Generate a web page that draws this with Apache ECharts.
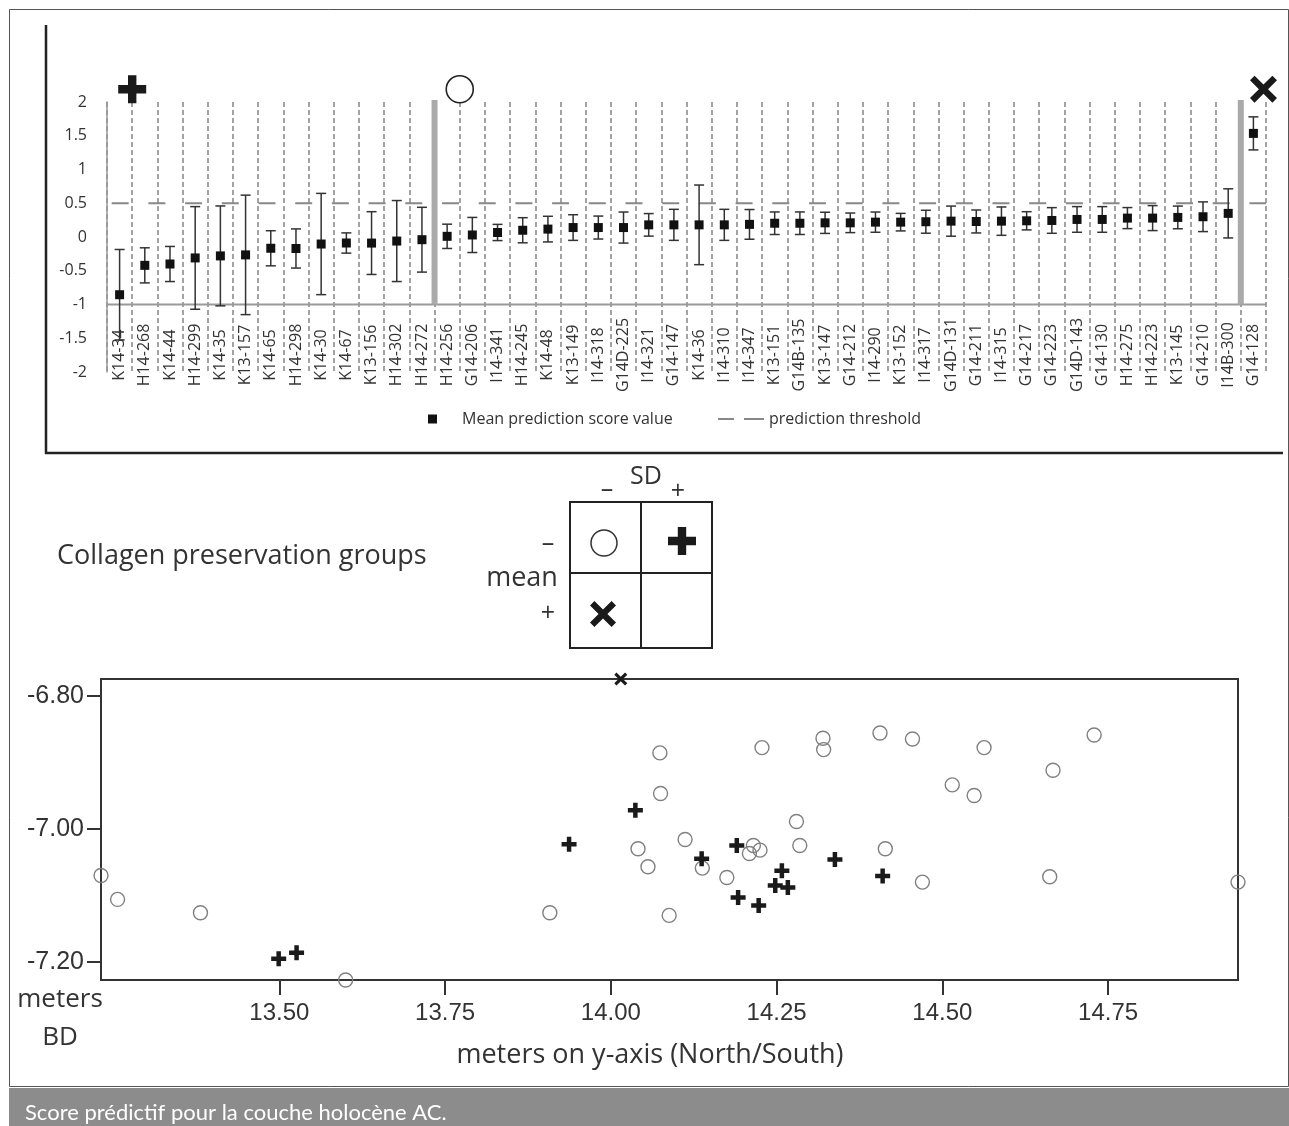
<!DOCTYPE html>
<html><head><meta charset="utf-8">
<script src="https://cdn.jsdelivr.net/npm/echarts@6/dist/echarts.min.js"></script>
<style>html,body{margin:0;padding:0;background:#fff}#c{width:1289px;height:1126px}</style>
</head><body><div id="c"></div>
<script>
// ---- top chart data ----
const categories = ['K14-34','H14-268','K14-44','H14-299','K14-35','K13-157','K14-65','H14-298','K14-30','K14-67','K13-156','H14-302','H14-272','H14-256','G14-206','I14-341','H14-245','K14-48','K13-149','I14-318','G14D-225','I14-321','G14-147','K14-36','I14-310','I14-347','K13-151','G14B-135','K13-147','G14-212','I14-290','K13-152','I14-317','G14D-131','G14-211','I14-315','G14-217','G14-223','G14D-143','G14-130','H14-275','H14-223','K13-145','G14-210','I14B-300','G14-128'];
const meanScores = [-0.855,-0.42,-0.40,-0.31,-0.28,-0.265,-0.167,-0.17,-0.104,-0.089,-0.09,-0.06,-0.04,0.01,0.03,0.067,0.10,0.117,0.14,0.14,0.14,0.18,0.18,0.18,0.18,0.187,0.204,0.204,0.21,0.21,0.22,0.22,0.226,0.235,0.23,0.235,0.24,0.245,0.26,0.26,0.28,0.28,0.29,0.30,0.35,1.535];
const sdValues = [0.67,0.26,0.26,0.76,0.74,0.885,0.26,0.29,0.75,0.15,0.465,0.60,0.48,0.18,0.26,0.12,0.186,0.19,0.19,0.17,0.23,0.167,0.23,0.59,0.23,0.22,0.167,0.167,0.157,0.145,0.15,0.13,0.17,0.223,0.17,0.21,0.135,0.19,0.19,0.19,0.156,0.185,0.168,0.22,0.364,0.245];
const thresholdValue = 0.5;
const floorValue = -1;
const groupBoundaries = [13, 45];
const groupMarkerPos = [1, 14, 45.9];
const groupMarkerLevel = 2.19;

// ---- bottom chart data (meters N/S, meters BD) ----
const circleNS = [13.231,13.256,13.381,13.600,13.908,14.074,14.075,14.041,14.056,14.112,14.088,14.138,14.175,14.215,14.209,14.225,14.228,14.320,14.321,14.406,14.455,14.563,14.515,14.548,14.280,14.285,14.414,14.470,14.729,14.667,14.662,14.946];
const circleBD = [-7.070,-7.106,-7.126,-7.227,-7.126,-6.886,-6.947,-7.030,-7.057,-7.016,-7.130,-7.059,-7.073,-7.025,-7.037,-7.032,-6.878,-6.864,-6.881,-6.856,-6.865,-6.878,-6.934,-6.950,-6.989,-7.025,-7.030,-7.080,-6.859,-6.912,-7.072,-7.080];
const plusNS = [13.499,13.526,13.937,14.037,14.137,14.190,14.192,14.223,14.248,14.258,14.267,14.338,14.410];
const plusBD = [-7.195,-7.186,-7.023,-6.972,-7.045,-7.025,-7.103,-7.115,-7.085,-7.063,-7.088,-7.046,-7.071];
const crossNS = [14.015];
const crossBD = [-6.775];
const xTickValues = [13.5,13.75,14.0,14.25,14.5,14.75];
const yTickValues = [-7.2,-7.0,-6.8];

const PLUS = 'path://M3.5,0h3v3.5h3.5v3h-3.5v3.5h-3v-3.5h-3.5v-3h3.5z';
const CROSS = 'path://M1.7,0L5,3.3L8.3,0L10,1.7L6.7,5L10,8.3L8.3,10L5,6.7L1.7,10L0,8.3L3.3,5L0,1.7Z';
const PLUS_PTS = [[3.5,0],[6.5,0],[6.5,3.5],[10,3.5],[10,6.5],[6.5,6.5],[6.5,10],[3.5,10],[3.5,6.5],[0,6.5],[0,3.5],[3.5,3.5]];
const CROSS_PTS = [[1.7,0],[5,3.3],[8.3,0],[10,1.7],[6.7,5],[10,8.3],[8.3,10],[5,6.7],[1.7,10],[0,8.3],[3.3,5],[0,1.7]];
const shapeAt = (pts, cx, cy, s) => pts.map(p => [cx + (p[0]-5)*s/10, cy + (p[1]-5)*s/10]);

const zip = (a,b) => a.map((v,i)=>[v,b[i]]);
const chart = echarts.init(document.getElementById('c'));
const TF = 'Open Sans';

chart.setOption({
  animation: false,
  backgroundColor: '#fff',
  grid: [
    {left:107, top:102, width:1159, height:270, outerBoundsMode:'none', containLabel:false},
    {left:101, top:679, width:1137, height:301, outerBoundsMode:'none', containLabel:false,
     show:true, borderColor:'#333', borderWidth:2, backgroundColor:'transparent'}
  ],
  legend: [
    {left:428, top:411, itemWidth:9, itemHeight:9, selectedMode:false, padding:0,
     textStyle:{fontSize:16, color:'#333', fontFamily:TF, padding:[0,0,0,20]},
     data:[{name:'Mean prediction score value', icon:'rect', itemStyle:{color:'#111', opacity:1}}]},
    {left:718, top:411, itemWidth:46, itemHeight:2, symbolKeepAspect:false, selectedMode:false, padding:0,
     textStyle:{fontSize:16, color:'#333', fontFamily:TF},
     data:[{name:'prediction threshold', icon:'path://M0,0h16v2h-16zM26,0h20v2h-20z', itemStyle:{color:'#888'}}]}
  ],
  xAxis: [
    {type:'category', gridIndex:0, data:categories, boundaryGap:true,
     axisLine:{show:false}, axisTick:{show:false},
     axisLabel:{interval:0, rotate:90, align:'center', margin:-17, fontSize:16, color:'#333', fontFamily:TF},
     splitLine:{show:true, interval:0, lineStyle:{color:'#999', width:1.8, type:[5,3]}}},
    {type:'value', gridIndex:0, min:0, max:46, show:false},
    {type:'value', gridIndex:1, min:'dataMin', max:'dataMax',
     axisLine:{show:false}, splitLine:{show:false},
     axisTick:{show:true, inside:false, length:15, customValues:xTickValues, lineStyle:{color:'#333', width:2}},
     axisLabel:{customValues:xTickValues, margin:21, fontSize:24, color:'#333', fontFamily:'Liberation Sans',
       formatter:v=>Number(v).toFixed(2)}}
  ],
  yAxis: [
    {type:'value', gridIndex:0, min:-2, max:2, interval:0.5,
     axisLine:{show:true, lineStyle:{color:'#999', width:1.5}}, axisTick:{show:false}, splitLine:{show:false},
     axisLabel:{margin:20, fontSize:16, color:'#333', fontFamily:TF}},
    {type:'value', gridIndex:1, min:'dataMin', max:'dataMax',
     axisLine:{show:false}, splitLine:{show:false},
     axisTick:{show:true, inside:false, length:14, customValues:yTickValues, lineStyle:{color:'#333', width:2}},
     axisLabel:{customValues:yTickValues, margin:17, fontSize:25, color:'#333', fontFamily:'Liberation Sans',
       formatter:v=>Number(v).toFixed(2)}}
  ],
  series: [
    {type:'line', xAxisIndex:1, yAxisIndex:0, silent:true, symbol:'none', z:2,
     data:[[0,floorValue],[46,floorValue]], lineStyle:{color:'#999', width:2}},
    {type:'custom', xAxisIndex:1, yAxisIndex:0, silent:true, z:3,
     data:groupBoundaries.map(b=>[b, floorValue, 2.03]),
     encode:{x:0, y:[1,2]},
     renderItem:(p, api)=>{
       const a = api.coord([api.value(0), api.value(1)]);
       const b = api.coord([api.value(0), api.value(2)]);
       return {type:'rect', shape:{x:a[0]-3, y:b[1], width:6, height:a[1]-b[1]}, style:{fill:'#aaa'}};
     }},
    {type:'line', name:'prediction threshold', xAxisIndex:1, yAxisIndex:0, silent:true, symbol:'none', z:3,
     color:'#888', data:[[0,thresholdValue],[46,thresholdValue]],
     lineStyle:{color:'#888', width:2, type:[17,19.7], dashOffset:32}},
    {type:'custom', xAxisIndex:0, yAxisIndex:0, silent:true, z:4,
     data:meanScores.map((m,i)=>[i, m-sdValues[i], m+sdValues[i]]),
     encode:{x:0, y:[1,2]},
     renderItem:(p, api)=>{
       const x = api.value(0);
       const lo = api.coord([x, api.value(1)]);
       const hi = api.coord([x, api.value(2)]);
       const cw = 5;
       const st = {stroke:'#333', lineWidth:1.5, fill:null};
       return {type:'group', children:[
         {type:'line', shape:{x1:lo[0], y1:lo[1], x2:hi[0], y2:hi[1]}, style:st},
         {type:'line', shape:{x1:lo[0]-cw, y1:lo[1], x2:lo[0]+cw, y2:lo[1]}, style:st},
         {type:'line', shape:{x1:hi[0]-cw, y1:hi[1], x2:hi[0]+cw, y2:hi[1]}, style:st}
       ]};
     }},
    {type:'scatter', name:'Mean prediction score value', xAxisIndex:0, yAxisIndex:0, z:5,
     symbol:'rect', symbolSize:9, itemStyle:{color:'#111', opacity:1},
     data:meanScores.map((m,i)=>[i,m])},
    {type:'scatter', xAxisIndex:1, yAxisIndex:0, clip:false, silent:true, z:6,
     data:[
       {value:[groupMarkerPos[0], groupMarkerLevel], symbol:PLUS, symbolSize:28, itemStyle:{color:'#1a1a1a', opacity:1}},
       {value:[groupMarkerPos[1], groupMarkerLevel], symbol:'circle', symbolSize:27, itemStyle:{color:'#fff', borderColor:'#222', borderWidth:1.6, opacity:1}},
       {value:[groupMarkerPos[2], groupMarkerLevel], symbol:CROSS, symbolSize:27, itemStyle:{color:'#1a1a1a', opacity:1}}
     ]},
    // bottom scatter
    {type:'scatter', xAxisIndex:2, yAxisIndex:1, clip:false, z:5,
     symbol:'circle', symbolSize:14, itemStyle:{color:'rgba(255,255,255,0)', borderColor:'#808080', borderWidth:1.4, opacity:1},
     data:zip(circleNS, circleBD)},
    {type:'scatter', xAxisIndex:2, yAxisIndex:1, clip:false, z:6,
     symbol:PLUS, symbolSize:15, itemStyle:{color:'#1a1a1a', opacity:1},
     data:zip(plusNS, plusBD)},
    {type:'scatter', xAxisIndex:2, yAxisIndex:1, clip:false, z:6,
     symbol:CROSS, symbolSize:13, itemStyle:{color:'#1a1a1a', opacity:1},
     data:zip(crossNS, crossBD)}
  ],
  graphic: [
    {type:'rect', z:-10, shape:{x:9.5, y:9.5, width:1279, height:1077}, style:{fill:null, stroke:'#555', lineWidth:1}},
    {type:'line', shape:{x1:46, y1:25, x2:46, y2:454}, style:{stroke:'#222', lineWidth:2.5}},
    {type:'line', shape:{x1:45, y1:453, x2:1283, y2:453}, style:{stroke:'#222', lineWidth:2.5}},
    {type:'rect', shape:{x:9, y:1088, width:1280, height:38}, style:{fill:'#8c8c8c'}},
    {type:'text', x:25, y:1113, style:{text:'Score prédictif pour la couche holocène AC.', fill:'#fff', font:'22px Lato', verticalAlign:'middle'}},
    // middle legend
    {type:'text', x:57, y:556, style:{text:'Collagen preservation groups', fill:'#333', font:'27px "Open Sans"', verticalAlign:'middle'}},
    {type:'text', x:646, y:477, style:{text:'SD', fill:'#333', font:'25px "Open Sans"', align:'center', verticalAlign:'middle'}},
    {type:'text', x:607, y:490, style:{text:'–', fill:'#333', font:'25px "Open Sans"', align:'center', verticalAlign:'middle'}},
    {type:'text', x:678, y:492, style:{text:'+', fill:'#333', font:'25px "Open Sans"', align:'center', verticalAlign:'middle'}},
    {type:'text', x:548, y:544, style:{text:'–', fill:'#333', font:'25px "Open Sans"', align:'center', verticalAlign:'middle'}},
    {type:'text', x:522, y:578, style:{text:'mean', fill:'#333', font:'27px "Open Sans"', align:'center', verticalAlign:'middle'}},
    {type:'text', x:548, y:614, style:{text:'+', fill:'#333', font:'25px "Open Sans"', align:'center', verticalAlign:'middle'}},
    {type:'rect', shape:{x:570, y:502, width:142, height:146}, style:{fill:null, stroke:'#222', lineWidth:2}},
    {type:'line', shape:{x1:641, y1:502, x2:641, y2:648}, style:{stroke:'#222', lineWidth:2}},
    {type:'line', shape:{x1:570, y1:573, x2:712, y2:573}, style:{stroke:'#222', lineWidth:2}},
    {type:'circle', shape:{cx:604, cy:543, r:13}, style:{fill:null, stroke:'#333', lineWidth:1.5}},
    {type:'polygon', shape:{points:shapeAt(PLUS_PTS, 682, 541, 28)}, style:{fill:'#1a1a1a'}},
    {type:'polygon', shape:{points:shapeAt(CROSS_PTS, 603, 614, 26)}, style:{fill:'#1a1a1a'}},
    // bottom axis names
    {type:'text', x:60, y:1000, style:{text:'meters', fill:'#333', font:'26px "Open Sans"', align:'center', verticalAlign:'middle'}},
    {type:'text', x:60, y:1038, style:{text:'BD', fill:'#333', font:'26px "Open Sans"', align:'center', verticalAlign:'middle'}},
    {type:'text', x:650, y:1055, style:{text:'meters on y-axis (North/South)', fill:'#333', font:'27px "Open Sans"', align:'center', verticalAlign:'middle'}}
  ]
});
</script></body></html>
